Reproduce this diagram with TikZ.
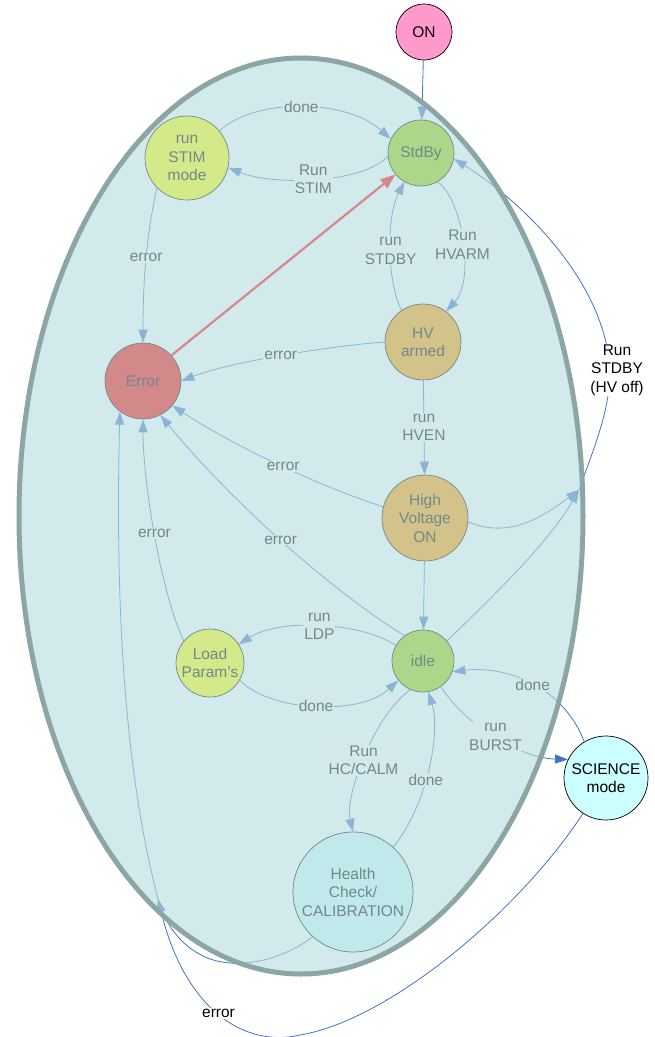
\documentclass[tikz,border=0pt]{standalone}
\usepackage{fontspec}
\setmainfont{Liberation Sans}
\usetikzlibrary{arrows.meta,shapes.geometric}
\definecolor{lb}{RGB}{68,114,196}
\definecolor{ovl}{RGB}{184,221,224}
\definecolor{bd}{RGB}{140,165,165}
\definecolor{pinkc}{RGB}{255,153,204}
\definecolor{greenc}{RGB}{153,204,0}
\definecolor{yellowc}{RGB}{255,255,0}
\definecolor{orangec}{RGB}{255,153,0}
\definecolor{cyanc}{RGB}{204,255,255}
\definecolor{redc}{RGB}{255,0,0}
\begin{document}
\begin{tikzpicture}[x=1pt,y=-1pt, font=\fontsize{15.5}{18.5}\selectfont,
  st/.style={circle, draw=black, line width=0.7pt, align=center, inner sep=0pt, text=black},
  ed/.style={draw=lb, line width=0.8pt, -{Triangle[length=13pt,width=9pt]}},
  redl/.style={draw=redc, line width=2.2pt, -{Triangle[length=15pt,width=11pt]}},
  lbl/.style={fill=white, inner sep=1pt, align=center, text=black},
]
\useasboundingbox (0,0) rectangle (654,1037);
% states
\node[st, fill=pinkc, minimum size=56pt] (on) at (424,32) {ON};
\node[st, fill=greenc, minimum size=66pt] (stdby) at (421,153) {StdBy};
\node[st, fill=yellowc, minimum size=84pt] (stim) at (187,158) {run\\STIM\\mode};
\node[st, fill=redc, minimum size=76pt] (err) at (143,381) {Error};
\node[st, fill=orangec, minimum size=76pt] (hva) at (423,342) {HV\\armed};
\node[st, fill=orangec, minimum size=86pt] (hvon) at (425,518) {High\\Voltage\\ON};
\node[st, fill=greenc, minimum size=62pt] (idle) at (423,661) {idle};
\node[st, fill=yellowc, minimum size=68pt] (load) at (210,663) {Load\\Param’s};
\node[st, fill=cyanc, minimum size=120pt] (hc) at (353,892) {Health\\Check/\\CALIBRATION};
\node[st, fill=cyanc, minimum size=84pt] (sci) at (606,778) {SCIENCE\\mode};
\coordinate (J) at (579,490);
\coordinate (K) at (158,899);
% transitions
\draw[ed] (on) -- (stdby);
\draw[ed] (stim.40) .. controls (255,98) and (345,98) .. (stdby.155) node[lbl,pos=0.5]{done};
\draw[ed] (stdby.186) .. controls (360,185) and (270,185) .. (stim.-13) node[lbl,pos=0.5]{Run\\STIM};
\draw[ed] (stim.-135) .. controls (145,240) and (143,290) .. (err.north) node[lbl,pos=0.45]{error};
\draw[redl] (err.42) -- (stdby.220);
\draw[ed] (hva.124) .. controls (388,285) and (385,220) .. (stdby.240) node[lbl,pos=0.5]{run\\STDBY};
\draw[ed] (stdby.-60) .. controls (463,200) and (475,280) .. (hva.53) node[lbl,pos=0.52]{Run\\HVARM};
\draw[ed] (hva.180) .. controls (330,346) and (230,362) .. (err.0) node[lbl,pos=0.5]{error};
\draw[ed] (hva) -- (hvon) node[lbl,midway]{run\\HVEN};
\draw[ed] (hvon.165) .. controls (330,490) and (240,450) .. (err.-40) node[lbl,pos=0.5]{error};
\draw[ed] (idle.126) .. controls (330,590) and (230,500) .. (err.-63) node[lbl,pos=0.5]{error};
\draw[ed] (hvon) -- (idle);
\draw[ed] (idle.150) .. controls (360,622) and (280,618) .. (load.33) node[lbl,pos=0.5]{run\\LDP};
\draw[ed] (load.-30) .. controls (270,712) and (360,716) .. (idle.218) node[lbl,pos=0.5]{done};
\draw[ed] (load.140) .. controls (160,590) and (143,480) .. (err.south) node[lbl,pos=0.5]{error};
\draw[ed] (idle.-55) .. controls (465,725) and (520,758) .. (sci.154) node[lbl,pos=0.5]{run\\BURST};
\draw[ed] (sci.121) .. controls (565,690) and (510,665) .. (idle.-20) node[lbl,pos=0.5]{done};
\draw[ed] (idle.246) .. controls (370,720) and (345,800) .. (hc.north) node[lbl,pos=0.5]{Run\\HC/CALM};
\draw[ed] (hc.48) .. controls (430,800) and (440,730) .. (idle.-80) node[lbl,pos=0.42]{done};
\draw[ed] (hc.228) .. controls (285,958) and (240,972) .. (205,957) .. controls (180,945) and (165,925) .. (157,895) .. controls (130,790) and (114,640) .. (err.233);
\draw[ed] (sci.237) .. controls (520,910) and (390,1020) .. (300,1035) .. controls (245,1048) and (185,1010) .. (K) node[lbl,pos=0.5]{error};
\draw[ed] (hvon.-5) .. controls (510,540) and (545,515) .. (J);
\draw[ed] (idle.40) .. controls (500,590) and (550,540) .. (J);
\draw[ed] (J) .. controls (595,445) and (610,410) .. (610,370) node[lbl,xshift=7pt]{Run\\STDBY\\(HV off)} .. controls (605,280) and (520,200) .. (stdby.-10);
% superstate overlay
\node[ellipse, minimum width=564pt, minimum height=916pt, inner sep=0pt, fill=ovl, fill opacity=0.62, draw=bd, draw opacity=1, line width=5pt] (grp) at (301,516) {};
\end{tikzpicture}
\end{document}
